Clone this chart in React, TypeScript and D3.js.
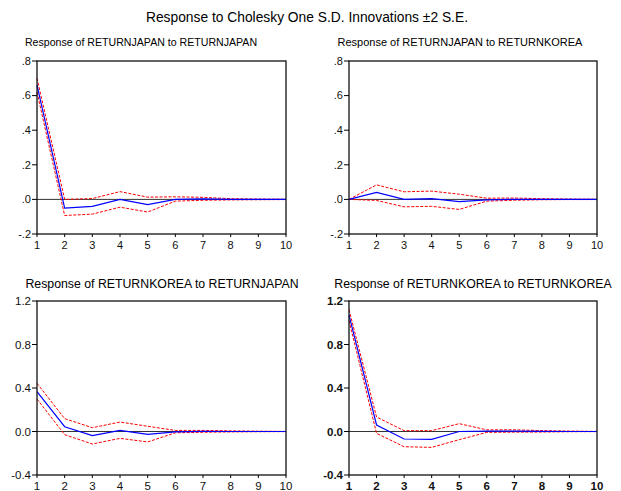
import React from "react";
import * as d3 from "d3";

const periods = [1, 2, 3, 4, 5, 6, 7, 8, 9, 10];

// Response of RETURNJAPAN to RETURNJAPAN
const jjResp = [0.66, -0.05, -0.04, 0.0, -0.03, 0.0, 0.003, 0.0, 0.0, 0.0];
const jjUpper = [0.7, 0.0, 0.005, 0.045, 0.013, 0.015, 0.012, 0.004, 0.002, 0.001];
const jjLower = [0.62, -0.093, -0.085, -0.045, -0.073, -0.01, -0.005, -0.003, -0.002, -0.001];

// Response of RETURNJAPAN to RETURNKOREA
const jkResp = [0.0, 0.04, 0.0, 0.004, -0.013, -0.003, 0.001, 0.0, 0.0, 0.0];
const jkUpper = [0.0, 0.084, 0.044, 0.048, 0.03, 0.007, 0.008, 0.004, 0.002, 0.001];
const jkLower = [0.0, -0.006, -0.043, -0.04, -0.058, -0.01, -0.005, -0.002, -0.001, -0.001];

// Response of RETURNKOREA to RETURNJAPAN
const kjResp = [0.366, 0.044, -0.038, 0.011, -0.026, -0.004, 0.002, 0.0, 0.0, 0.0];
const kjUpper = [0.443, 0.118, 0.035, 0.087, 0.048, 0.01, 0.01, 0.006, 0.003, 0.001];
const kjLower = [0.299, -0.029, -0.115, -0.063, -0.096, -0.012, -0.007, -0.004, -0.002, -0.001];

// Response of RETURNKOREA to RETURNKOREA
const kkResp = [1.07, 0.06, -0.069, -0.072, 0.0, 0.003, 0.004, 0.001, 0.0, 0.0];
const kkUpper = [1.12, 0.133, 0.008, 0.008, 0.072, 0.015, 0.016, 0.008, 0.004, 0.001];
const kkLower = [1.02, -0.017, -0.14, -0.146, -0.075, -0.008, -0.006, -0.005, -0.002, -0.001];

const topTicks = [-0.2, 0, 0.2, 0.4, 0.6, 0.8];
const topTickLabels = ["-.2", ".0", ".2", ".4", ".6", ".8"];
const bottomTicks = [-0.4, 0, 0.4, 0.8, 1.2];
const bottomTickLabels = ["-0.4", "0.0", "0.4", "0.8", "1.2"];

const mainTitle = "Response to Cholesky One S.D. Innovations \u00B12 S.E.";

type PanelProps = {
  title: string;
  resp: number[];
  upper: number[];
  lower: number[];
  ticks: number[];
  tickLabels: string[];
  left: number;
  top: number;
  right: number;
  bottom: number;
  titleX: number;
  titleY: number;
  titleSize: number;
  tickSize: number;
  bold?: boolean;
};

function Panel(p: PanelProps) {
  const x = d3.scaleLinear().domain([1, 10]).range([p.left, p.right]);
  const y = d3
    .scaleLinear()
    .domain([p.ticks[0], p.ticks[p.ticks.length - 1]])
    .range([p.bottom, p.top]);
  const line = d3
    .line<number>()
    .x((_, i) => x(periods[i]))
    .y((d) => y(d));
  const font = "Liberation Sans, Arial, sans-serif";
  const fw = p.bold ? 600 : 400;
  return (
    <g>
      <text
        x={p.titleX}
        y={p.titleY}
        textAnchor="middle"
        fontFamily={font}
        fontSize={p.titleSize}
        fill="#000"
      >
        {p.title}
      </text>
      <line x1={p.left} x2={p.right} y1={y(0)} y2={y(0)} stroke="#333" strokeWidth={1} />
      <path d={line(p.upper) || ""} fill="none" stroke="#ff0000" strokeWidth={1} strokeDasharray="3,1.5" />
      <path d={line(p.lower) || ""} fill="none" stroke="#ff0000" strokeWidth={1} strokeDasharray="3,1.5" />
      <path d={line(p.resp) || ""} fill="none" stroke="#0000ff" strokeWidth={1.2} />
      <rect
        x={p.left}
        y={p.top}
        width={p.right - p.left}
        height={p.bottom - p.top}
        fill="none"
        stroke="#111"
        strokeWidth={1.3}
      />
      {p.ticks.map((t, i) => (
        <g key={"y" + i}>
          <line x1={p.left - 5} x2={p.left} y1={y(t)} y2={y(t)} stroke="#000" />
          <text
            x={p.left - 6}
            y={y(t)}
            dy="0.35em"
            textAnchor="end"
            fontFamily={font}
            fontSize={p.tickSize}
            fontWeight={fw}
            fill="#111"
          >
            {p.tickLabels[i]}
          </text>
        </g>
      ))}
      {periods.map((t) => (
        <g key={"x" + t}>
          <line x1={x(t)} x2={x(t)} y1={p.bottom} y2={p.bottom + 3} stroke="#000" />
          <text
            x={x(t)}
            y={p.bottom + 6}
            dy="0.8em"
            textAnchor="middle"
            fontFamily={font}
            fontSize={p.tickSize}
            fontWeight={fw}
            fill="#111"
          >
            {t}
          </text>
        </g>
      ))}
    </g>
  );
}

export default function App() {
  return (
    <svg
      width={621}
      height={491}
      style={{ position: "absolute", left: 0, top: 0, background: "#fff" }}
    >
      <rect width={621} height={491} fill="#fff" />
      <text
        x={307}
        y={22}
        textAnchor="middle"
        fontFamily="Liberation Sans, Arial, sans-serif"
        fontSize={13.8}
      >
        {mainTitle}
      </text>
      <Panel
        title="Response of RETURNJAPAN to RETURNJAPAN"
        resp={jjResp}
        upper={jjUpper}
        lower={jjLower}
        ticks={topTicks}
        tickLabels={topTickLabels}
        left={37}
        top={61}
        right={286}
        bottom={234}
        titleX={141}
        titleY={46}
        titleSize={10.6}
        tickSize={11}
      />
      <Panel
        title="Response of RETURNJAPAN to RETURNKOREA"
        resp={jkResp}
        upper={jkUpper}
        lower={jkLower}
        ticks={topTicks}
        tickLabels={topTickLabels}
        left={349}
        top={61}
        right={597}
        bottom={234}
        titleX={460}
        titleY={46}
        titleSize={11}
        tickSize={11}
      />
      <Panel
        title="Response of RETURNKOREA to RETURNJAPAN"
        resp={kjResp}
        upper={kjUpper}
        lower={kjLower}
        ticks={bottomTicks}
        tickLabels={bottomTickLabels}
        left={37}
        top={301}
        right={286}
        bottom={475}
        titleX={162}
        titleY={288}
        titleSize={12.3}
        tickSize={11.5}
      />
      <Panel
        title="Response of RETURNKOREA to RETURNKOREA"
        resp={kkResp}
        upper={kkUpper}
        lower={kkLower}
        ticks={bottomTicks}
        tickLabels={bottomTickLabels}
        left={349}
        top={301}
        right={597}
        bottom={475}
        titleX={473}
        titleY={288}
        titleSize={12.3}
        tickSize={11.5}
        bold
      />
    </svg>
  );
}
